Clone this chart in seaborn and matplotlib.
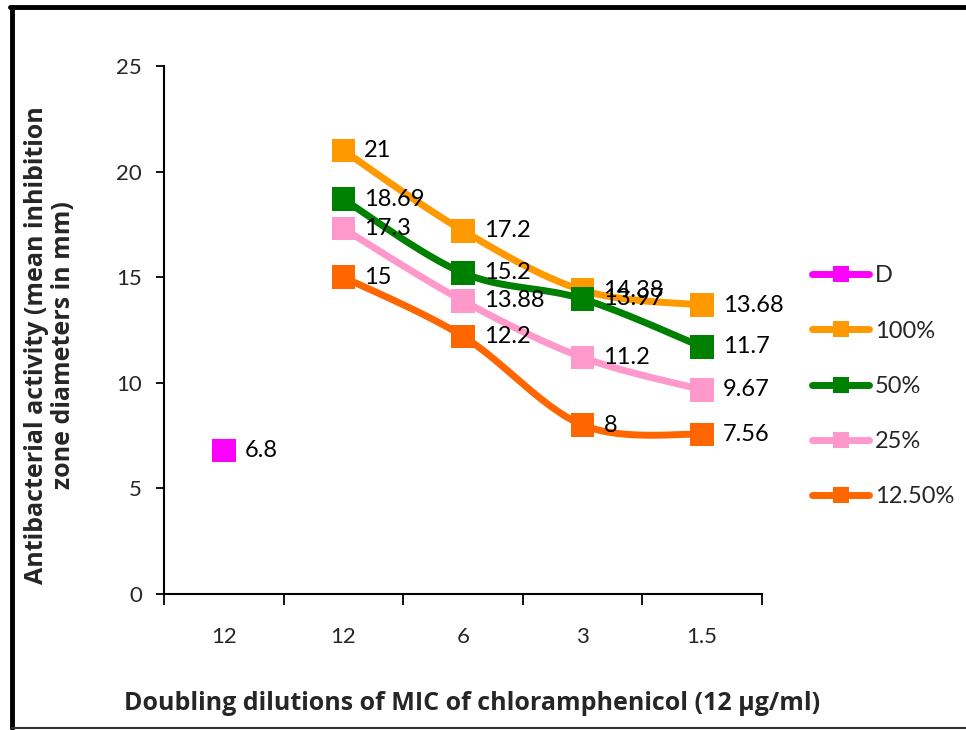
import numpy as np
import pandas as pd
import matplotlib
matplotlib.use("Agg")
import matplotlib.pyplot as plt
from matplotlib.lines import Line2D
import seaborn as sns

# Dilution categories along the x axis
categories = ["12", "12", "6", "3", "1.5"]

# Series values (mean inhibition zone diameters, mm); None = no point
series_names = ["D", "100%", "50%", "25%", "12.50%"]
vals_D = [6.8, None, None, None, None]
vals_100 = [None, 21, 17.2, 14.38, 13.68]
vals_50 = [None, 18.69, 15.2, 13.97, 11.7]
vals_25 = [None, 17.3, 13.88, 11.2, 9.67]
vals_125 = [None, 15, 12.2, 8, 7.56]

colors = {"D": "#FF00FF", "100%": "#FF9900", "50%": "#008000",
          "25%": "#FF99CC", "12.50%": "#FF6600"}

all_vals = [vals_D, vals_100, vals_50, vals_25, vals_125]

rows = []
for name, vals in zip(series_names, all_vals):
    for i, v in enumerate(vals):
        if v is not None:
            rows.append({"series": name, "x": i, "value": v})
df = pd.DataFrame(rows)


def smooth_curve(xs, ys, n=40):
    """Cardinal (Catmull-Rom) Bezier smoothing through the given points."""
    pts = np.column_stack([xs, ys]).astype(float)
    if len(pts) < 2:
        return pts[:, 0], pts[:, 1]
    ext = np.vstack([pts[0], pts, pts[-1]])
    out = []
    t = np.linspace(0, 1, n)[:, None]
    for i in range(1, len(ext) - 2):
        p0, p1, p2, p3 = ext[i - 1], ext[i], ext[i + 1], ext[i + 2]
        c1 = p1 + (p2 - p0) / 6.0
        c2 = p2 - (p3 - p1) / 6.0
        seg = ((1 - t) ** 3) * p1 + 3 * ((1 - t) ** 2) * t * c1 + 3 * (1 - t) * t ** 2 * c2 + t ** 3 * p2
        out.append(seg if i == 1 else seg[1:])
    out = np.vstack(out)
    return out[:, 0], out[:, 1]


sns.set_theme(style="white")
plt.rcParams["font.family"] = ["Lato", "DejaVu Sans"]

fig = plt.figure(figsize=(9.66, 7.30), dpi=100)
ax = fig.add_axes([164 / 966, 1 - 594 / 730, (762 - 164) / 966, (594 - 66) / 730])

# smoothed connecting lines
curve_rows = []
for name in series_names:
    sub = df[df.series == name]
    if len(sub) > 1:
        cx, cy = smooth_curve(sub.x.values, sub.value.values)
        for a, b in zip(cx, cy):
            curve_rows.append({"series": name, "x": a, "value": b})
curves = pd.DataFrame(curve_rows)
sns.lineplot(data=curves, x="x", y="value", hue="series", palette=colors,
             linewidth=5, sort=False, estimator=None, legend=False, ax=ax,
             hue_order=[s for s in series_names if s in curves.series.unique()])

# square markers
sns.scatterplot(data=df, x="x", y="value", hue="series", palette=colors,
                marker="s", s=290, edgecolor="none", legend=False, ax=ax,
                zorder=5)

# value labels
for _, r in df.iterrows():
    ax.annotate(f"{r.value:g}", (r.x, r.value), xytext=(15, 0),
                textcoords="offset points", ha="left", va="center",
                fontsize=17, color="black", zorder=6)

ax.set_xlim(-0.5, 4.5)
ax.set_ylim(0, 25)
ax.set_yticks([0, 5, 10, 15, 20, 25])
ax.set_yticklabels(["0", "5", "10", "15", "20", "25"], fontsize=16)
ax.set_xticks(np.arange(-0.5, 5, 1))
ax.set_xticklabels([])
ax.set_xticks(range(len(categories)), minor=True)
ax.set_xticklabels(categories, minor=True, fontsize=16)
ax.tick_params(axis="x", which="major", direction="out", length=8, width=1.3,
               color="black", bottom=True)
ax.tick_params(axis="x", which="minor", length=0, pad=24)
ax.tick_params(axis="y", direction="out", length=6, width=1.3, color="black",
               left=True, pad=10)
for side in ["top", "right"]:
    ax.spines[side].set_visible(False)
for side in ["left", "bottom"]:
    ax.spines[side].set_color("black")
    ax.spines[side].set_linewidth(1.5)
ax.set_xlabel("")
ax.set_ylabel("")

label_font = ["Open Sans", "DejaVu Sans"]
fig.text(472 / 966, 1 - 703 / 730,
         "Doubling dilutions of MIC of chloramphenicol (12 µg/ml)",
         ha="center", va="center", fontsize=18, fontweight="bold",
         family=label_font)
fig.text(50 / 966, 1 - 345 / 730,
         "Antibacterial activity (mean inhibition\nzone diameters in mm)",
         ha="center", va="center", rotation=90, fontsize=18,
         fontweight="bold", linespacing=1.1, family=label_font)

handles = [Line2D([0], [0], color=colors[n], lw=5, marker="s", markersize=12,
                  markeredgewidth=0) for n in series_names]
fig.legend(handles, series_names, loc="upper left",
           bbox_to_anchor=(803 / 966, 1 - 256 / 730), frameon=False,
           fontsize=17, handlelength=2.4, labelspacing=1.45,
           handletextpad=0.25, borderaxespad=0)

# outer frame
fig.add_artist(Line2D([12 / 966, 12 / 966], [1 - 7 / 730, 1 - 728 / 730],
                      transform=fig.transFigure, color="black", lw=3.5))
fig.add_artist(Line2D([10 / 966, 1.0], [1 - 7 / 730, 1 - 7 / 730],
                      transform=fig.transFigure, color="black", lw=3.5))
fig.add_artist(Line2D([12 / 966, 1.0], [1 - 728 / 730, 1 - 728 / 730],
                      transform=fig.transFigure, color="#333333", lw=1.5))

fig.savefig("out.png", dpi=100)
